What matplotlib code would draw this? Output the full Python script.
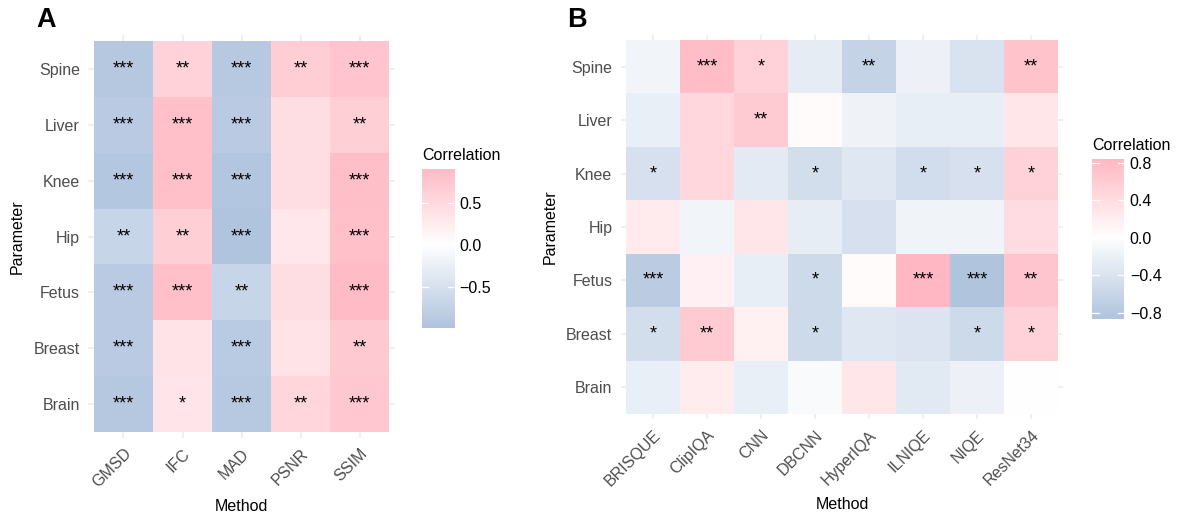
import numpy as np
import matplotlib
matplotlib.use("Agg")
import matplotlib.pyplot as plt
from matplotlib.colors import LinearSegmentedColormap, Normalize

plt.rcParams['font.family'] = ['Liberation Sans', 'DejaVu Sans']

# ---- data ----
params = ['Spine', 'Liver', 'Knee', 'Hip', 'Fetus', 'Breast', 'Brain']

a_methods = ['GMSD', 'IFC', 'MAD', 'PSNR', 'SSIM']
a_corr = [
    [-0.92, 0.62, -0.90, 0.68, 0.80],
    [-0.88, 0.85, -0.88, 0.45, 0.65],
    [-0.93, 0.85, -0.95, 0.45, 0.87],
    [-0.70, 0.65, -0.99, 0.32, 0.85],
    [-0.88, 0.85, -0.70, 0.45, 0.90],
    [-0.88, 0.38, -0.87, 0.38, 0.72],
    [-0.92, 0.35, -0.90, 0.55, 0.75],
]
a_sig = [
    ['***', '**', '***', '**', '***'],
    ['***', '***', '***', '', '**'],
    ['***', '***', '***', '', '***'],
    ['**', '**', '***', '', '***'],
    ['***', '***', '**', '', '***'],
    ['***', '', '***', '', '**'],
    ['***', '*', '***', '**', '***'],
]

b_methods = ['BRISQUE', 'ClipIQA', 'CNN', 'DBCNN', 'HyperIQA', 'ILNIQE', 'NIQE', 'ResNet34']
b_corr = [
    [-0.15, 0.78, 0.55, -0.28, -0.65, -0.20, -0.42, 0.72],
    [-0.24, 0.48, 0.62, 0.05, -0.17, -0.25, -0.25, 0.30],
    [-0.45, 0.48, -0.30, -0.48, -0.35, -0.50, -0.45, 0.55],
    [0.25, -0.15, 0.30, -0.27, -0.45, -0.16, -0.16, 0.42],
    [-0.75, 0.17, -0.25, -0.55, 0.05, 0.84, -0.87, 0.68],
    [-0.48, 0.62, 0.18, -0.55, -0.35, -0.40, -0.55, 0.55],
    [-0.24, 0.22, -0.24, -0.08, 0.30, -0.33, -0.20, 0.01],
]
b_sig = [
    ['', '***', '*', '', '**', '', '', '**'],
    ['', '', '**', '', '', '', '', ''],
    ['*', '', '', '*', '', '*', '*', '*'],
    ['', '', '', '', '', '', '', ''],
    ['***', '', '', '*', '', '***', '***', '**'],
    ['*', '**', '', '*', '', '', '*', '*'],
    ['', '', '', '', '', '', '', ''],
]

a_ticks = [-0.5, 0.0, 0.5]
b_ticks = [-0.8, -0.4, 0.0, 0.4, 0.8]

cmap = LinearSegmentedColormap.from_list('corr', ['#B0C4DE', '#FFFFFF', '#FFB6C1'])
GRID = '#EBEBEB'
TICKCOL = '#4D4D4D'


def draw_heatmap(ax, corr, sig, rows, cols):
    vals = np.array(corr, dtype=float)
    m = np.nanmax(np.abs(vals))
    norm = Normalize(-m, m)
    ax.set_axisbelow(True)
    ax.grid(True, color=GRID, lw=1.1, zorder=0)
    ax.pcolormesh(np.arange(len(cols) + 1) - 0.5, np.arange(len(rows) + 1) - 0.5,
                  np.ma.masked_invalid(vals), cmap=cmap, norm=norm, zorder=2)
    for i in range(len(rows)):
        for j in range(len(cols)):
            if sig[i][j]:
                ax.text(j, i, sig[i][j], ha='center', va='center', fontsize=13,
                        color='black', zorder=3)
    ax.set_xlim(-0.6, len(cols) - 0.4)
    ax.set_ylim(len(rows) - 0.4, -0.6)
    ax.set_xticks(range(len(cols)))
    ax.set_xticklabels(cols, rotation=45, ha='right', va='top', rotation_mode='anchor')
    ax.set_yticks(range(len(rows)))
    ax.set_yticklabels(rows)
    ax.tick_params(length=0, labelsize=11.5, labelcolor=TICKCOL, pad=6)
    for s in ax.spines.values():
        s.set_visible(False)
    ax.set_xlabel('Method', fontsize=11.5, labelpad=6)
    ax.set_ylabel('Parameter', fontsize=11.5, labelpad=6)
    return norm, np.nanmin(vals), np.nanmax(vals)


def draw_colorbar(cax, norm, lo, hi, ticks):
    grad = np.linspace(lo, hi, 256).reshape(-1, 1)
    cax.imshow(grad, cmap=cmap, norm=norm, aspect='auto', origin='lower',
               extent=[0, 1, lo, hi])
    for t in ticks:
        cax.plot([0, 0.2], [t, t], color='white', lw=0.9)
        cax.plot([0.8, 1], [t, t], color='white', lw=0.9)
    cax.set_xlim(0, 1)
    cax.set_ylim(lo, hi)
    cax.set_xticks([])
    cax.yaxis.tick_right()
    cax.set_yticks(ticks)
    cax.set_yticklabels([f'{t:.1f}'.replace('-', '\u2212') for t in ticks])
    cax.tick_params(length=0, labelsize=11.5, pad=4)
    for s in cax.spines.values():
        s.set_visible(False)


fig = plt.figure(figsize=(11.8, 5.15), dpi=100)
W, H = 1180, 515

axA = fig.add_axes([88.1 / W, 1 - 437.6 / H, 306.8 / W, 402.2 / H])
axB = fig.add_axes([620.6 / W, 1 - 419.3 / H, 442.8 / W, 384.6 / H])

normA, loA, hiA = draw_heatmap(axA, a_corr, a_sig, params, a_methods)
normB, loB, hiB = draw_heatmap(axB, b_corr, b_sig, params, b_methods)

caxA = fig.add_axes([422 / W, 1 - 327.7 / H, 32 / W, 158.4 / H])
caxB = fig.add_axes([1092.3 / W, 1 - 319.3 / H, 32 / W, 160 / H])
draw_colorbar(caxA, normA, loA, hiA, a_ticks)
draw_colorbar(caxB, normB, loB, hiB, b_ticks)

fig.text(422 / W, 1 - 155 / H, 'Correlation', fontsize=11.5, va='center', ha='left')
fig.text(1092 / W, 1 - 146 / H, 'Correlation', fontsize=11.5, va='center', ha='left')

fig.text(36 / W, 1 - 20 / H, 'A', fontsize=19.5, fontweight='bold', va='center', ha='left')
fig.text(567 / W, 1 - 20 / H, 'B', fontsize=19.5, fontweight='bold', va='center', ha='left')

fig.savefig('out.png', dpi=100)
